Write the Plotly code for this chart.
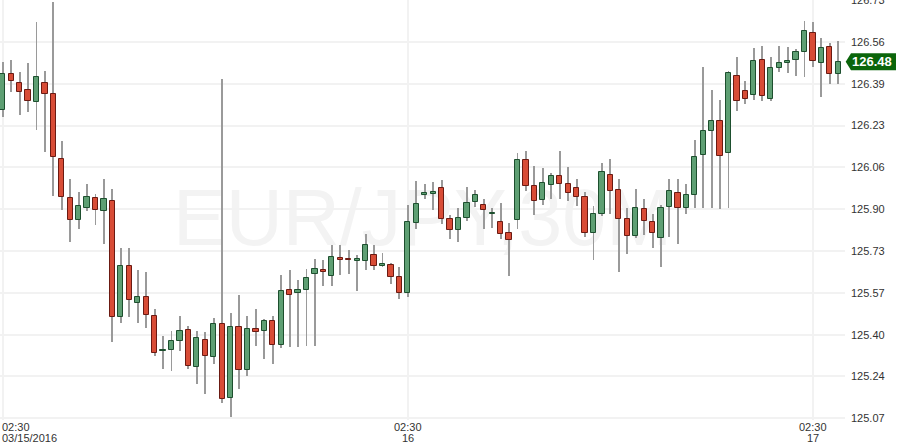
import plotly.graph_objects as go

# 30-minute EUR/JPY bars, first bar = 03/15/2016 02:30
opens = [126.289, 126.433, 126.396, 126.370, 126.321, 126.396, 126.356, 126.095, 125.941, 125.857,
         125.901, 125.941, 125.889, 125.929, 125.473, 125.675, 125.525, 125.549, 125.477, 125.336,
         125.339, 125.378, 125.418, 125.275, 125.382, 125.311, 125.443, 125.149, 125.430, 125.260,
         125.422, 125.414, 125.454, 125.362, 125.580, 125.568, 125.580, 125.640, 125.656, 125.632,
         125.703, 125.699, 125.691, 125.691, 125.715, 125.675, 125.679, 125.628, 125.568, 125.842,
         125.956, 125.960, 125.984, 125.861, 125.817, 125.865, 125.925, 125.913, 125.879, 125.846,
         125.802, 125.854, 126.091, 125.988, 125.933, 125.992, 126.028, 125.996, 125.984, 125.945,
         125.802, 125.881, 126.032, 125.976, 125.861, 125.790, 125.897, 125.846, 125.786, 125.905,
         125.964, 125.901, 125.956, 126.111, 126.206, 126.246, 126.119, 126.424, 126.368, 126.349,
         126.487, 126.333, 126.459, 126.479, 126.487, 126.519, 126.594, 126.479, 126.539, 126.432]
highs = [126.482, 126.488, 126.441, 126.477, 126.639, 126.445, 126.718, 126.168, 126.017, 125.966,
         125.997, 125.958, 126.017, 125.978, 125.744, 125.744, 125.657, 125.649, 125.501, 125.395,
         125.415, 125.475, 125.435, 125.415, 125.411, 125.467, 126.413, 125.488, 125.558, 125.475,
         125.502, 125.463, 125.475, 125.637, 125.657, 125.617, 125.661, 125.700, 125.696, 125.756,
         125.756, 125.736, 125.716, 125.799, 125.756, 125.724, 125.687, 125.671, 125.914, 126.008,
         125.997, 126.005, 126.013, 125.877, 125.901, 125.986, 125.974, 125.937, 125.901, 125.923,
         125.844, 126.120, 126.128, 126.069, 126.061, 126.041, 126.128, 126.065, 126.017, 125.966,
         125.909, 126.081, 126.096, 126.017, 125.901, 125.978, 125.937, 125.881, 125.913, 126.017,
         126.017, 125.997, 126.172, 126.461, 126.370, 126.330, 126.445, 126.500, 126.405, 126.536,
         126.544, 126.500, 126.544, 126.540, 126.532, 126.643, 126.639, 126.576, 126.556, 126.564]
lows = [126.264, 126.363, 126.272, 126.284, 126.213, 126.125, 125.951, 125.896, 125.769, 125.821,
        125.892, 125.836, 125.761, 125.373, 125.448, 125.473, 125.448, 125.428, 125.318, 125.266,
        125.258, 125.337, 125.266, 125.207, 125.167, 125.287, 125.129, 125.076, 125.188, 125.238,
        125.357, 125.306, 125.286, 125.349, 125.353, 125.353, 125.357, 125.357, 125.595, 125.595,
        125.636, 125.640, 125.576, 125.659, 125.659, 125.671, 125.600, 125.541, 125.549, 125.818,
        125.937, 125.896, 125.840, 125.781, 125.769, 125.852, 125.905, 125.821, 125.824, 125.781,
        125.633, 125.821, 125.971, 125.876, 125.913, 125.938, 125.938, 125.931, 125.912, 125.789,
        125.698, 125.872, 125.880, 125.650, 125.722, 125.785, 125.797, 125.745, 125.670, 125.789,
        125.761, 125.880, 125.901, 125.901, 125.901, 125.897, 125.901, 126.285, 126.313, 126.329,
        126.325, 126.325, 126.440, 126.436, 126.424, 126.422, 126.462, 126.343, 126.395, 126.395]
closes = [126.433, 126.404, 126.364, 126.325, 126.420, 126.356, 126.103, 125.945, 125.854, 125.909,
          125.945, 125.893, 125.937, 125.473, 125.675, 125.537, 125.549, 125.481, 125.327, 125.338,
          125.378, 125.414, 125.279, 125.390, 125.315, 125.443, 125.145, 125.430, 125.263, 125.422,
          125.410, 125.454, 125.362, 125.576, 125.560, 125.580, 125.624, 125.663, 125.648, 125.707,
          125.695, 125.695, 125.699, 125.755, 125.675, 125.679, 125.628, 125.568, 125.846, 125.917,
          125.960, 125.964, 125.861, 125.817, 125.865, 125.921, 125.953, 125.893, 125.881, 125.801,
          125.778, 126.091, 125.988, 125.929, 126.000, 126.028, 125.996, 125.964, 125.945, 125.802,
          125.881, 126.044, 125.972, 125.861, 125.790, 125.901, 125.850, 125.802, 125.901, 125.972,
          125.901, 125.956, 126.103, 126.206, 126.246, 126.107, 126.436, 126.325, 126.333, 126.483,
          126.345, 126.459, 126.479, 126.483, 126.519, 126.602, 126.483, 126.535, 126.432, 126.482]

# y-axis price ticks (evenly spaced) and their labels
ytick_vals = [125.0700, 125.2356, 125.4012, 125.5668, 125.7324, 125.8980,
              126.0636, 126.2292, 126.3948, 126.5604, 126.7260]
ytick_labels = ["125.07", "125.24", "125.40", "125.57", "125.73", "125.90",
                "126.06", "126.23", "126.39", "126.56", "126.73"]

# x-axis day boundaries (bar index), time and day labels
day_ticks = [0, 48, 96]
day_time_labels = ["02:30", "02:30", "02:30"]
day_date_labels = ["03/15/2016", "16", "17"]

symbol_label = "EUR/JPY,30M"

FONT = "Liberation Sans, Arial, sans-serif"
GREEN_FILL, GREEN_LINE = "#5e9f73", "#1d4f2e"
RED_FILL, RED_LINE = "#d84c36", "#6b1a12"
WICK = "#9a9a9a"
GRID = "#f2f2f2"

n = len(closes)
x = list(range(n))
up = [c >= o for o, c in zip(opens, closes)]
body_base = [min(o, c) for o, c in zip(opens, closes)]
body_len = [max(abs(c - o), 0.005) for o, c in zip(opens, closes)]
wick_len = [h - l for h, l in zip(highs, lows)]

fig = go.Figure()
# wicks
fig.add_trace(go.Bar(
    x=x, y=wick_len, base=lows, width=0.11,
    marker=dict(color=WICK, line=dict(width=0)),
    hoverinfo="skip", showlegend=False))
# bodies
fig.add_trace(go.Bar(
    x=x, y=body_len, base=body_base, width=0.62,
    marker=dict(color=[GREEN_FILL if u else RED_FILL for u in up],
                line=dict(color=[GREEN_LINE if u else RED_LINE for u in up], width=1)),
    hoverinfo="skip", showlegend=False))

annotations = []
# first day label (left aligned at chart edge)
annotations.append(dict(xref="paper", yref="paper", x=0, y=0, xanchor="left", yanchor="middle",
                        xshift=0, yshift=-6.5, text=day_time_labels[0], showarrow=False,
                        font=dict(family=FONT, size=11, color="#333")))
annotations.append(dict(xref="paper", yref="paper", x=0, y=0, xanchor="left", yanchor="middle",
                        xshift=0, yshift=-17.5, text=day_date_labels[0], showarrow=False,
                        font=dict(family=FONT, size=11, color="#333")))
for t, lab in zip(day_ticks[1:], day_date_labels[1:]):
    annotations.append(dict(xref="x", yref="paper", x=t, y=0, xanchor="center", yanchor="middle",
                            yshift=-17.5, text=lab, showarrow=False,
                            font=dict(family=FONT, size=11, color="#333")))
for t, lab in zip(day_ticks[1:], day_time_labels[1:]):
    annotations.append(dict(xref="x", yref="paper", x=t, y=0, xanchor="center", yanchor="middle",
                            yshift=-6.5, text=lab, showarrow=False,
                            font=dict(family=FONT, size=11, color="#333")))
# last price tag text
annotations.append(dict(xref="paper", yref="y", x=1, y=closes[-1], xanchor="center", yanchor="middle",
                        xshift=27, text="<b>%.2f</b>" % closes[-1], showarrow=False,
                        font=dict(family=FONT, size=13, color="white")))

shapes = [
    # watermark
    dict(type="rect", xref="paper", yref="paper", x0=0, x1=1, y0=0, y1=1,
         line=dict(width=0), fillcolor="rgba(0,0,0,0)", layer="below",
         label=dict(text=symbol_label, textposition="middle center",
                    font=dict(family=FONT, size=79, color="#f3f3f3"))),
    # last price tag
    dict(type="path", xref="paper", yref="y", xsizemode="pixel", ysizemode="pixel",
         xanchor=1, yanchor=closes[-1],
         path="M 0.7 0 L 6 8.5 L 51 8.5 L 51 -8.5 L 6 -8.5 Z",
         fillcolor="#0b650b", line=dict(width=0), layer="above"),
]

fig.update_layout(
    width=900, height=448,
    margin=dict(l=0, r=55, t=0, b=28, autoexpand=False),
    paper_bgcolor="white", plot_bgcolor="white",
    barmode="overlay", bargap=0,
    showlegend=False,
    font=dict(family=FONT, size=11, color="#333"),
    xaxis=dict(range=[-0.32, 99.80], tickvals=day_ticks, ticktext=["", "", ""],
               showgrid=True, gridcolor=GRID, gridwidth=2, zeroline=False,
               showline=False, ticks="", fixedrange=True, automargin=False),
    yaxis=dict(side="right", range=[125.0633, 126.7265], tickvals=ytick_vals, ticktext=ytick_labels,
               showgrid=True, gridcolor=GRID, gridwidth=2, zeroline=False, showline=False,
               ticks="", tickfont=dict(family=FONT, size=11, color="#333"), fixedrange=True,
               automargin=False, ticklabeloverflow="allow", ticklabelstandoff=5),
    annotations=annotations,
    shapes=shapes,
)

fig.write_html("out.html", config={"displayModeBar": False},
               post_script="document.body.style.margin='0px';document.body.style.padding='0px';")
